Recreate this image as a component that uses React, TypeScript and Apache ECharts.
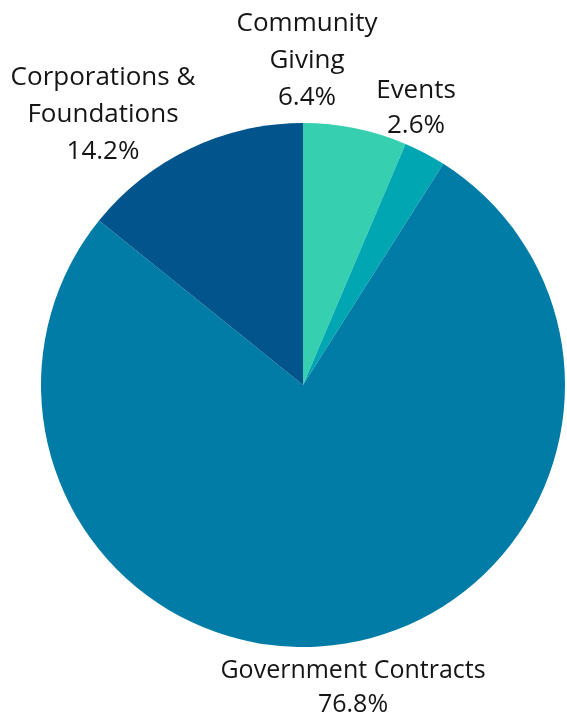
import React, { useEffect, useRef } from "react";
import * as echarts from "echarts";

const categories = ["Community\nGiving", "Events", "Government Contracts", "Corporations &\nFoundations"];
const values = [6.4, 2.6, 76.8, 14.2];
const colors = ["#36d0b0", "#00a6b1", "#007ca6", "#02548c"];
// label anchor positions (layout only)
const labelPos = [
  [307, 58],
  [416, 105],
  [353, 685],
  [103, 112],
];
const lineHeights = [37, 35, 34.5, 37];
const fontSizes = [26, 26, 25, 26];

export default function App() {
  const ref = useRef<HTMLDivElement>(null);
  useEffect(() => {
    const chart = echarts.init(ref.current!, null, { renderer: "svg" });
    chart.setOption({
      animation: false,
      series: [
        {
          type: "pie",
          center: [303, 385],
          radius: 262,
          startAngle: 90,
          clockwise: true,
          avoidLabelOverlap: false,
          data: categories.map((c, i) => ({
            name: c,
            value: values[i],
            itemStyle: { color: colors[i] },
            label: { lineHeight: lineHeights[i], fontSize: fontSizes[i] },
          })),
          label: {
            show: true,
            position: "outside",
            formatter: (p: any) => `${p.name}\n${p.value.toFixed(1)}%`,
            fontFamily: "Open Sans",
            color: "#151515",
            align: "center",
          },
          labelLine: { show: false },
          labelLayout: (params: any) => ({
            x: labelPos[params.dataIndex][0],
            y: labelPos[params.dataIndex][1],
            align: "center",
            verticalAlign: "middle",
          }),
        },
      ],
    });
    return () => chart.dispose();
  }, []);
  return <div ref={ref} style={{ position: "fixed", left: 0, top: 0, width: 567, height: 721 }} />;
}
